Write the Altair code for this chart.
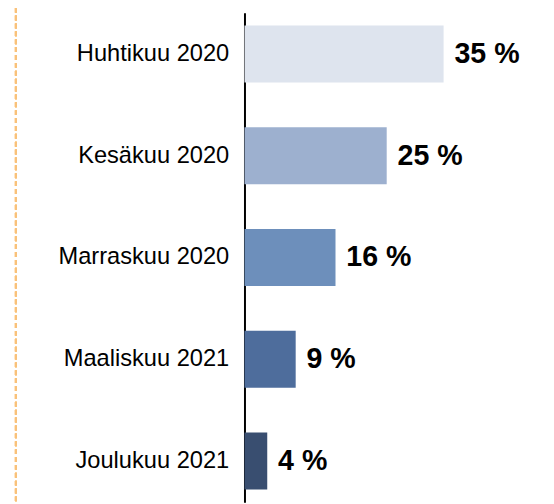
import altair as alt
import pandas as pd

categories = ["Huhtikuu 2020", "Kesäkuu 2020", "Marraskuu 2020", "Maaliskuu 2021", "Joulukuu 2021"]
values = [35, 25, 16, 9, 4]
labels = ["35 %", "25 %", "16 %", "9 %", "4 %"]
colors = ["#DEE4EE", "#9DB0CF", "#6D8FBB", "#4E6D9C", "#394E70"]

df = pd.DataFrame({"cat": categories, "val": values, "lab": labels})

y_enc = alt.Y("cat:N", sort=categories, title=None,
              scale=alt.Scale(paddingInner=0.441, paddingOuter=0.127),
              axis=alt.Axis(domainColor="black", domainWidth=2, ticks=False,
                            labelFont="Liberation Sans", labelFontSize=24,
                            labelColor="black", labelPadding=16, labelLimit=300))
x_enc = alt.X("val:Q", scale=alt.Scale(domain=[0, 53], nice=False), axis=None, title=None)

bars = alt.Chart(df).mark_bar().encode(
    x=x_enc, y=y_enc,
    color=alt.Color("cat:N", scale=alt.Scale(domain=categories, range=colors), legend=None),
)

text = alt.Chart(df).mark_text(align="left", baseline="middle", dx=11,
                               font="Liberation Sans", fontSize=29, fontWeight="bold",
                               color="black").encode(
    x=x_enc, y=alt.Y("cat:N", sort=categories), text="lab:N"
)

dash = alt.Chart(df).mark_rule(stroke="#F9C27A", strokeWidth=2, strokeDash=[5, 3]).encode(
    x=alt.value(-232), y=alt.value(-5), y2=alt.value(496)
)

chart = alt.layer(dash, bars, text).properties(
    width=306, height=497,
    autosize=alt.AutoSizeParams(type="none"),
    padding={"left": 240, "top": 1, "right": 0, "bottom": 0},
).configure_view(stroke=None)

chart.save("out.html", embed_options={"renderer": "svg", "actions": False})
